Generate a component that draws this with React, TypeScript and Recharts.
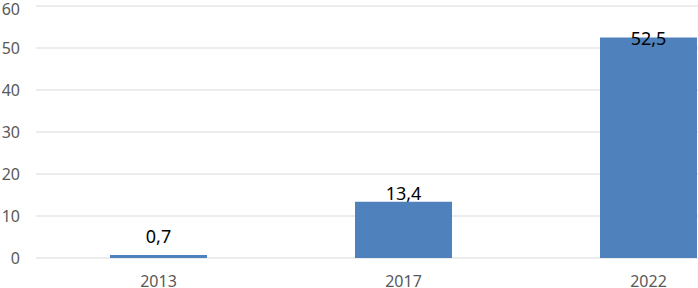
import { BarChart, Bar, XAxis, YAxis, CartesianGrid, LabelList } from "recharts";

const years = ["2013", "2017", "2022"];
const values = [0.7, 13.4, 52.5];
const yTicks = [0, 10, 20, 30, 40, 50, 60];

const data = years.map((year, i) => ({ year, value: values[i] }));

const PLOT_TOP = 6;
const PLOT_BOTTOM = 258;

const fmt = (v: number) => String(v).replace(".", ",");

const BarLabel = (props: any) => {
  const { x, y, width, value } = props;
  // keep label inside plot and clear of the axis, like the Excel original
  let base = y - 2;
  if (base > PLOT_BOTTOM - 15) base = PLOT_BOTTOM - 15;
  if (base < PLOT_TOP + 39) base = PLOT_TOP + 39;
  return (
    <text
      x={x + width / 2}
      y={base}
      textAnchor="middle"
      fill="#000000"
      fontSize={18}
      fontFamily="Noto Sans"
    >
      {fmt(value)}
    </text>
  );
};

export default function App() {
  return (
    <div
      style={{
        position: "absolute",
        left: 0,
        top: 0,
        width: 698,
        height: 288,
        overflow: "hidden",
        background: "#fff",
      }}
    >
      <BarChart
        width={771}
        height={288}
        data={data}
        margin={{ top: PLOT_TOP, right: 0, bottom: 0, left: 0 }}
      >
        <CartesianGrid vertical={false} stroke="#d9d9d9" />
        <XAxis
          dataKey="year"
          axisLine={false}
          tickLine={false}
          tickSize={0}
          tickMargin={18}
          height={30}
          tick={{ fill: "#595959", fontSize: 16, fontFamily: "Noto Sans" }}
        />
        <YAxis
          domain={[0, 60]}
          ticks={yTicks}
          width={36}
          axisLine={false}
          tickLine={false}
          tickSize={0}
          tickMargin={16}
          tick={{ fill: "#595959", fontSize: 16, fontFamily: "Noto Sans" }}
        />
        <Bar dataKey="value" fill="#4F81BD" barSize={97} isAnimationActive={false}>
          <LabelList dataKey="value" content={BarLabel} />
        </Bar>
      </BarChart>
    </div>
  );
}
